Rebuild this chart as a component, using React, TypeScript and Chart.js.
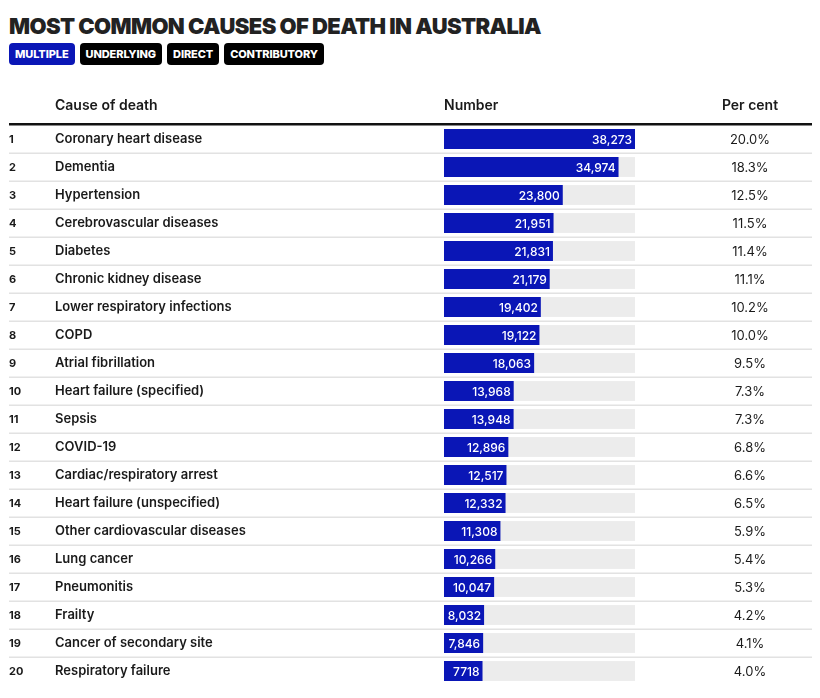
import React, { useEffect, useRef } from "react";
import { Chart, registerables } from "chart.js";

Chart.register(...registerables);

const title = "MOST COMMON CAUSES OF DEATH IN AUSTRALIA";
const tabs = ["MULTIPLE", "UNDERLYING", "DIRECT", "CONTRIBUTORY"];
const headers = ["Cause of death", "Number", "Per cent"];

const causes = [
  "Coronary heart disease",
  "Dementia",
  "Hypertension",
  "Cerebrovascular diseases",
  "Diabetes",
  "Chronic kidney disease",
  "Lower respiratory infections",
  "COPD",
  "Atrial fibrillation",
  "Heart failure (specified)",
  "Sepsis",
  "COVID-19",
  "Cardiac/respiratory arrest",
  "Heart failure (unspecified)",
  "Other cardiovascular diseases",
  "Lung cancer",
  "Pneumonitis",
  "Frailty",
  "Cancer of secondary site",
  "Respiratory failure",
];

const numbers = [
  38273, 34974, 23800, 21951, 21831, 21179, 19402, 19122, 18063, 13968, 13948,
  12896, 12517, 12332, 11308, 10266, 10047, 8032, 7846, 7718,
];

const numberLabels = [
  "38,273", "34,974", "23,800", "21,951", "21,831", "21,179", "19,402",
  "19,122", "18,063", "13,968", "13,948", "12,896", "12,517", "12,332",
  "11,308", "10,266", "10,047", "8,032", "7,846", "7718",
];

const perCent = [
  "20.0%", "18.3%", "12.5%", "11.5%", "11.4%", "11.1%", "10.2%", "10.0%",
  "9.5%", "7.3%", "7.3%", "6.8%", "6.6%", "6.5%", "5.9%", "5.4%", "5.3%",
  "4.2%", "4.1%", "4.0%",
];

const FONT = "Inter, 'Open Sans', sans-serif";
const BLUE = "#0a16b6";

const tablePlugin = {
  id: "tablePlugin",
  beforeDatasetsDraw(chart: any) {
    const ctx = chart.ctx;
    const xs = chart.scales.x;
    const ys = chart.scales.y;
    const meta = chart.getDatasetMeta(0);
    ctx.save();
    // header
    ctx.fillStyle = "#1a1a1a";
    ctx.font = `600 14px ${FONT}`;
    ctx.textBaseline = "middle";
    ctx.textAlign = "left";
    ctx.fillText(headers[0], 47, 25);
    ctx.fillText(headers[1], xs.left, 25);
    ctx.textAlign = "center";
    ctx.fillText(headers[2], 742, 25);
    // thick rule
    ctx.fillStyle = "#111";
    ctx.fillRect(1, chart.chartArea.top - 2, chart.width - 1, 2.5);
    // row separators, ranks, percents
    causes.forEach((_, i) => {
      const y = ys.getPixelForValue(i);
      if (i < causes.length - 1) {
        ctx.fillStyle = "#e2e2e2";
        ctx.fillRect(1, y + 13.5, chart.width - 1, 1.5);
      }
      ctx.fillStyle = "#1a1a1a";
      ctx.textAlign = "left";
      ctx.font = `700 11px ${FONT}`;
      ctx.fillText(String(i + 1), 1, y + 1);
      ctx.font = `400 13px ${FONT}`;
      ctx.textAlign = "center";
      ctx.fillText(perCent[i], 742, y + 1);
      // track
      const bar = meta.data[i] as any;
      ctx.fillStyle = "#ececec";
      ctx.fillRect(xs.left, bar.y - bar.height / 2, xs.right - xs.left, bar.height);
    });
    ctx.restore();
  },
  afterDatasetsDraw(chart: any) {
    const ctx = chart.ctx;
    const meta = chart.getDatasetMeta(0);
    ctx.save();
    ctx.fillStyle = "#ffffff";
    ctx.font = `500 12px ${FONT}`;
    ctx.textAlign = "right";
    ctx.textBaseline = "middle";
    meta.data.forEach((bar: any, i: number) => {
      ctx.fillText(numberLabels[i], bar.x - 3, bar.y + 1);
    });
    ctx.restore();
  },
};

function TableChart() {
  const ref = useRef<HTMLCanvasElement | null>(null);
  useEffect(() => {
    if (!ref.current) return;
    const chart = new Chart(ref.current, {
      type: "bar",
      data: {
        labels: causes,
        datasets: [
          {
            data: numbers,
            backgroundColor: BLUE,
            barPercentage: 0.71,
            categoryPercentage: 1,
          },
        ],
      },
      options: {
        indexAxis: "y",
        animation: false,
        responsive: false,
        maintainAspectRatio: false,
        layout: { padding: { left: 47, top: 44, right: 185, bottom: 14 } },
        plugins: { legend: { display: false }, tooltip: { enabled: false } },
        scales: {
          x: { display: false, min: 0, max: Math.max(...numbers) },
          y: {
            grid: { display: false },
            border: { display: false },
            afterFit: (scale: any) => {
              scale.width = 389;
            },
            ticks: {
              crossAlign: "far",
              color: "#1a1a1a",
              font: { family: FONT, size: 13, weight: "600" },
              padding: 0,
              autoSkip: false,
            },
          },
        },
      },
      plugins: [tablePlugin],
    });
    return () => chart.destroy();
  }, []);
  return (
    <canvas
      ref={ref}
      width={812}
      height={618}
      style={{ position: "absolute", left: 0, top: 73, width: 812, height: 618 }}
    />
  );
}

export default function App() {
  return (
    <div style={{ position: "relative", width: 812, height: 690, fontFamily: FONT }}>
      <div
        style={{
          position: "absolute",
          left: 1,
          top: 5,
          fontSize: 22,
          fontWeight: 900,
          lineHeight: "26px",
          color: "#222",
          letterSpacing: -0.6,
          whiteSpace: "nowrap",
        }}
      >
        {title}
      </div>
      <div style={{ position: "absolute", left: 1, top: 35, display: "flex", gap: 5 }}>
        {tabs.map((t, i) => (
          <div
            key={t}
            style={{
              background: i === 0 ? BLUE : "#000",
              color: "#fff",
              fontSize: 11,
              fontWeight: 800,
              height: 22,
              lineHeight: "22px",
              padding: "0 6px",
              borderRadius: 4,
              letterSpacing: -0.1,
            }}
          >
            {t}
          </div>
        ))}
      </div>
      <TableChart />
    </div>
  );
}
